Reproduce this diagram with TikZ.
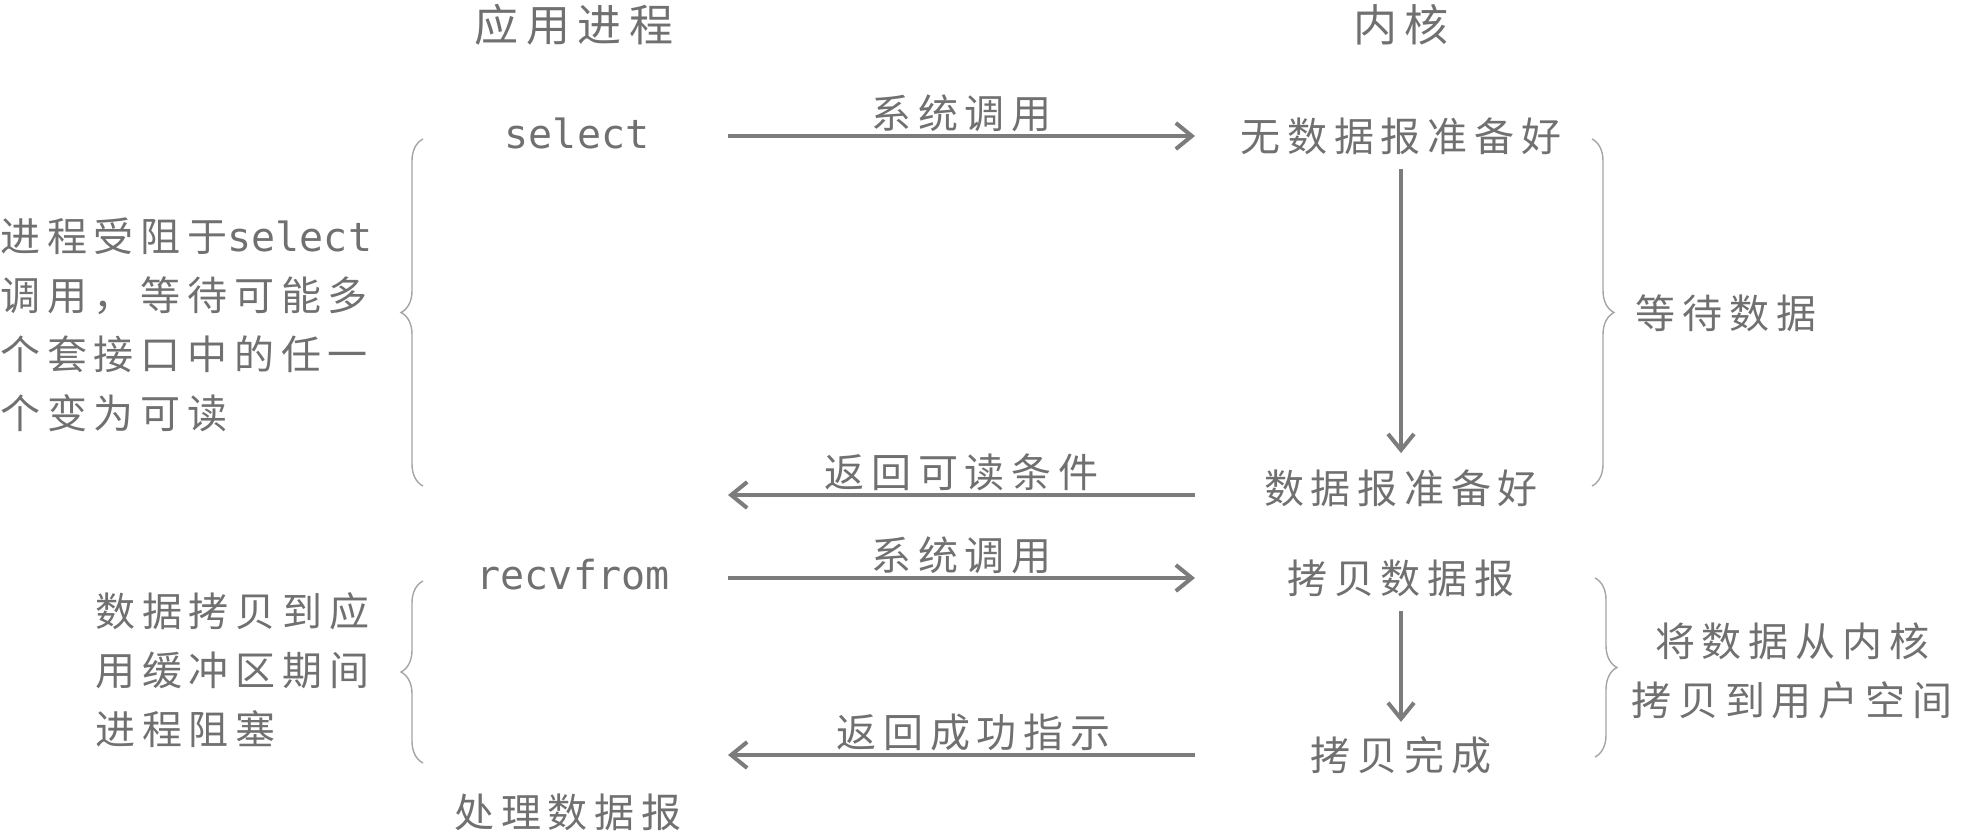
\documentclass[tikz,border=0pt]{standalone}
\usepackage{fontspec}
\newfontfamily\cjk[LetterSpace=17]{Noto Sans CJK SC}
\newfontfamily\code{DejaVu Sans Mono}
\usepackage{tikz}
\usetikzlibrary{arrows.meta,decorations.pathreplacing}
\definecolor{inkgray}{RGB}{112,112,112}
\definecolor{linegray}{RGB}{124,124,124}
\definecolor{bracegray}{RGB}{165,165,165}
\tikzset{
  txt/.style={text=inkgray, inner sep=0pt, font=\cjk\fontsize{20}{29.5}\selectfont},
  head/.style={txt, font=\cjk\fontsize{22}{26}\selectfont},
  codetxt/.style={text=inkgray, inner sep=0pt, font=\code\fontsize{20}{24}\selectfont},
  msg/.style={draw=linegray, line width=2pt, -{Straight Barb[length=8pt,width=13pt,line width=2pt]}},
  brc/.style={draw=bracegray, line width=0.7pt, decorate, decoration={brace,amplitude=11pt}}
}

\begin{document}
\begin{tikzpicture}[x=0.5pt,y=-0.5pt]
\useasboundingbox (0,0) rectangle (1969,836);
% column titles
\node[head] (app) at (574,25) {应用进程};
\node[head] (kern) at (1401,25) {内核};
% select phase
\node[codetxt] (sel) at (577,133) {select};
\node[txt] (nodata) at (1401,136) {无数据报准备好};
\node[txt] (ready) at (1401,488) {数据报准备好};
\node[txt] (wait) at (1726,313) {等待数据};
\node[txt, align=left, anchor=west] (blk1) at (0,325) {进程受阻于{\code select}\\调用，等待可能多\\个套接口中的任一\\个变为可读};
% recvfrom phase
\node[codetxt] (recv) at (573,575) {recvfrom};
\node[txt] (copy) at (1401,578) {拷贝数据报};
\node[txt] (done) at (1401,755) {拷贝完成};
\node[txt] (proc) at (568,812) {处理数据报};
\node[txt, align=center] (move) at (1792,671) {将数据从内核\\拷贝到用户空间};
\node[txt, align=left, anchor=west] (blk2) at (95,670) {数据拷贝到应\\用缓冲区期间\\进程阻塞};
% arrow ends
\coordinate (Lx) at (728,0);
\coordinate (Rx) at (1195,0);
\draw[msg] (Lx |- nodata) -- node[txt, above=1pt] (call1) {系统调用} (Rx |- nodata);
\draw[msg] ([yshift=-7pt]nodata.south) -- ([yshift=8pt]ready.north);
\draw[msg] ([yshift=-3.5pt]Rx |- ready) -- node[txt, above=1pt] (ret1) {返回可读条件} ([yshift=-3.5pt]Lx |- ready);
\draw[msg] (Lx |- copy) -- node[txt, above=1pt] (call2) {系统调用} (Rx |- copy);
\draw[msg] ([yshift=-7pt]copy.south) -- ([yshift=7pt]done.north);
\draw[msg] (Rx |- done) -- node[txt, above=1pt, xshift=6pt] (ret2) {返回成功指示} (Lx |- done);
% braces
\coordinate (b1t) at (423,139); \coordinate (b1b) at (423,486);
\coordinate (b2t) at (1592,139); \coordinate (b2b) at (1592,486);
\coordinate (b3t) at (423,581); \coordinate (b3b) at (423,763);
\coordinate (b4t) at (1595,578); \coordinate (b4b) at (1595,757);
\draw[brc] (b1b) -- (b1t);
\draw[brc] (b2t) -- (b2b);
\draw[brc] (b3b) -- (b3t);
\draw[brc] (b4t) -- (b4b);
\end{tikzpicture}
\end{document}
